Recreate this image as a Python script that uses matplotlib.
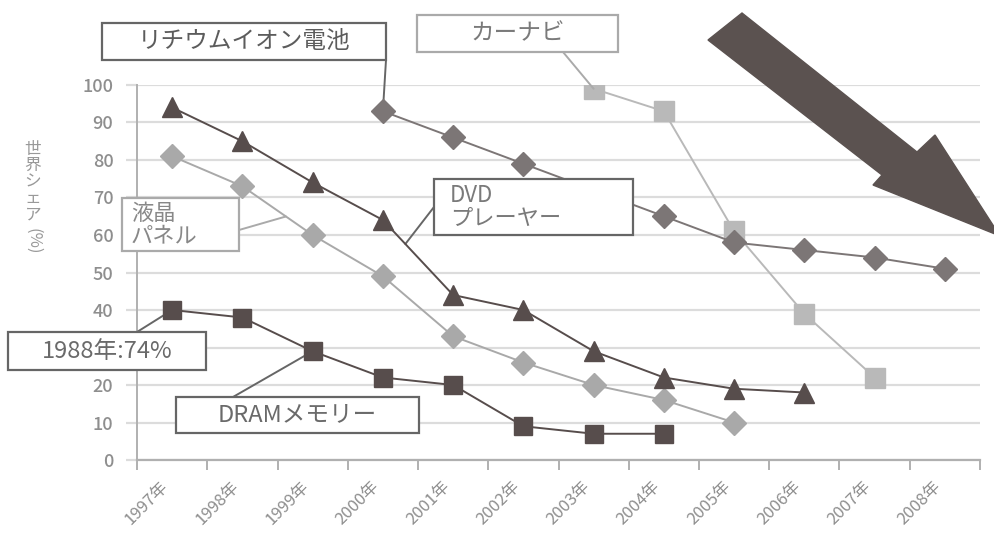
import numpy as np
import matplotlib
matplotlib.use('Agg')
import matplotlib.pyplot as plt
from matplotlib.patches import Rectangle, Polygon

plt.rcParams['font.family'] = ['Noto Sans CJK JP', 'DejaVu Sans']

# data
years = ['1997年', '1998年', '1999年', '2000年', '2001年', '2002年',
         '2003年', '2004年', '2005年', '2006年', '2007年', '2008年']
dvd = [94, 85, 74, 64, 44, 40, 29, 22, 19, 18, None, None]
lcd = [81, 73, 60, 49, 33, 26, 20, 16, 10, None, None, None]
dram = [40, 38, 29, 22, 20, 9, 7, 7, None, None, None, None]
lithium = [None, None, None, 93, 86, 79, 72, 65, 58, 56, 54, 51]
carnavi = [None, None, None, None, None, None, 99, 93, 61, 39, 22, None]

W, H = 994, 543
fig = plt.figure(figsize=(W / 100, H / 100), dpi=100)
ax = fig.add_axes([137 / W, 83 / H, 843 / W, 375 / H])

x = np.arange(len(years))


def series(vals):
    return np.array([np.nan if v is None else v for v in vals], dtype=float)


dark = '#574d4c'
mid = '#7c7676'
light = '#a9a9a9'
lighter = '#b9b9b9'

ax.plot(x, series(lithium), color=mid, lw=1.4, marker='D', ms=12.5,
        mec=mid, mfc=mid, zorder=4)
ax.plot(x, series(carnavi), color=lighter, lw=1.4, marker='s', ms=14,
        mec=lighter, mfc=lighter, zorder=3)
ax.plot(x, series(lcd), color=light, lw=1.4, marker='D', ms=12.5,
        mec=light, mfc=light, zorder=4)
ax.plot(x, series(dvd), color=dark, lw=1.4, marker='^', ms=15,
        mec=dark, mfc=dark, zorder=5)
ax.plot(x, series(dram), color=dark, lw=1.4, marker='s', ms=13,
        mec=dark, mfc=dark, zorder=5)

ax.set_xlim(-0.5, len(years) - 0.5)
ax.set_ylim(0, 100)
yt = list(range(0, 101, 10))
ax.set_yticks(yt)
# the 30 label sits under the "1988年" box in the original
ax.set_yticklabels(['' if v == 30 else str(v) for v in yt],
                   fontweight='medium')
ax.yaxis.grid(True, color='#dcdcdc', lw=1.6)
ax.set_axisbelow(True)
for s in ['top', 'right', 'bottom']:
    ax.spines[s].set_visible(False)
ax.spines['left'].set_color('#b0b0b0')
ax.spines['left'].set_linewidth(1.4)
ax.tick_params(axis='y', length=8, color='#dcdcdc', width=1.6,
               labelsize=13, labelcolor='#8e8e8e', pad=9)

ax.set_xticks(x)
ax.set_xticklabels(years, rotation=45, ha='right', fontsize=12,
                   color='#8e8e8e')
ax.set_xticks(np.arange(-0.5, len(years)), minor=True)
ax.tick_params(axis='x', which='major', length=0, pad=13)
ax.tick_params(axis='x', which='minor', length=7, color='#b0b0b0', width=1.4)
ax.axhline(0, color='#b0b0b0', lw=1.6, zorder=2, clip_on=False)

# y label, written vertically
fig.text(33 / W, 1 - 141 / H, '\n'.join('世界シェア'), ha='center', va='top',
         fontsize=12, color='#999999', linespacing=0.95)
fig.text(33 / W, 1 - 228 / H, '(%)', ha='center', va='top', rotation=270,
         fontsize=12, color='#999999')


def label_box(text, box, ec, tc, fs, start, target, pad=None):
    x0, y0, x1, y1 = box
    fig.add_artist(Rectangle((x0 / W, 1 - y1 / H), (x1 - x0) / W,
                             (y1 - y0) / H, transform=fig.transFigure,
                             fc='white', ec=ec, lw=1.6, zorder=6))
    if pad is None:
        fig.text((x0 + x1) / 2 / W, 1 - (y0 + y1) / 2 / H, text, ha='center',
                 va='center', fontsize=fs, color=tc, zorder=7,
                 linespacing=1.0)
    else:
        fig.text((x0 + pad) / W, 1 - (y0 + y1) / 2 / H, text, ha='left',
                 va='center', fontsize=fs, color=tc, zorder=7,
                 linespacing=1.0)
    ax.annotate('', xy=target, xycoords='data',
                xytext=(start[0], H - start[1]), textcoords='figure pixels',
                arrowprops=dict(arrowstyle='-', color=ec, lw=1.4,
                                shrinkA=0, shrinkB=0), zorder=3)


def on_line(vals, i, frac):
    return (i + frac, vals[i] + (vals[i + 1] - vals[i]) * frac)


label_box('リチウムイオン電池', (102, 23, 386, 60), '#666666', '#5c5c5c', 17,
          (386, 60), (3, lithium[3]))
label_box('カーナビ', (417, 15, 618, 52), '#aaaaaa', '#7a7a7a', 17,
          (563, 52), (6, carnavi[6]))
label_box('液晶\nパネル', (122, 198, 239, 251), '#aaaaaa', '#888888', 16,
          (239, 230), on_line(lcd, 1, 0.62), pad=9)
label_box('DVD\nプレーヤー', (434, 179, 633, 235), '#666666', '#7a7a7a', 16,
          (434, 207), on_line(dvd, 3, 0.32), pad=16)
label_box('1988年:74%', (8, 332, 206, 370), '#666666', '#6a6a6a', 17,
          (137, 332), (0, dram[0]))
label_box('DRAMメモリー', (176, 397, 419, 433), '#666666', '#6a6a6a', 17,
          (233, 397), (2, dram[2]))

# big downward arrow in the corner
arrow_px = [(708, 40), (742, 13), (917, 152), (935, 135), (1000, 236),
            (873, 185), (882, 175)]
fig.add_artist(Polygon([(px / W, 1 - py / H) for px, py in arrow_px],
                       closed=True, transform=fig.transFigure,
                       fc='#5b5250', ec='#5b5250', zorder=8))

fig.savefig('out.png', dpi=100)
